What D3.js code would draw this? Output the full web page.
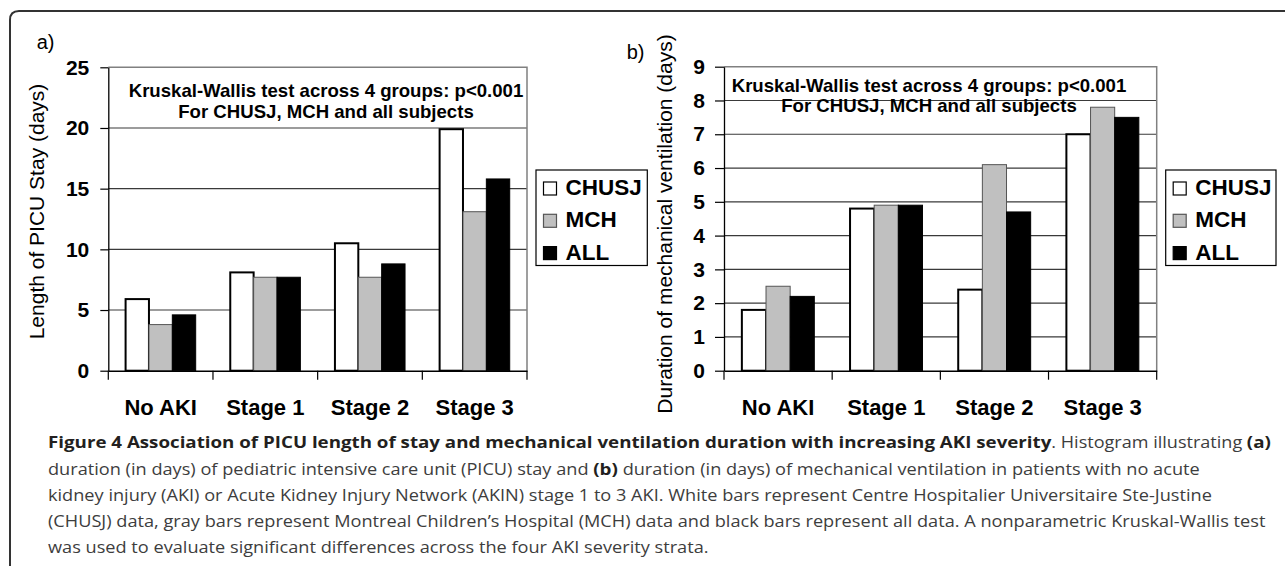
<!DOCTYPE html>
<html><head><meta charset="utf-8">
<script src="https://cdn.jsdelivr.net/npm/d3@7"></script>
<style>body{margin:0;background:#fff}svg{display:block}</style>
</head><body>
<svg id="c" width="1285" height="566"></svg>
<script>
// ---------- data ----------
const categories = ["No AKI", "Stage 1", "Stage 2", "Stage 3"];
const seriesNames = ["CHUSJ", "MCH", "ALL"];
const picuCHUSJ = [5.9, 8.1, 10.5, 19.9];
const picuMCH   = [3.8, 7.7, 7.7, 13.1];
const picuALL   = [4.6, 7.7, 8.8, 15.8];
const ventCHUSJ = [1.8, 4.8, 2.4, 7.0];
const ventMCH   = [2.5, 4.9, 6.1, 7.8];
const ventALL   = [2.2, 4.9, 4.7, 7.5];
const picuTicks = [0, 5, 10, 15, 20, 25];
const ventTicks = [0, 1, 2, 3, 4, 5, 6, 7, 8, 9];
const annotationLines = ["Kruskal-Wallis test across 4 groups: p<0.001", "For CHUSJ, MCH and all subjects"];
const captionLines = [
  [["b", "Figure 4 Association of PICU length of stay and mechanical ventilation duration with increasing AKI severity"], ["r", ". Histogram illustrating "], ["b", "(a)"]],
  [["r", "duration (in days) of pediatric intensive care unit (PICU) stay and "], ["b", "(b)"], ["r", " duration (in days) of mechanical ventilation in patients with no acute"]],
  [["r", "kidney injury (AKI) or Acute Kidney Injury Network (AKIN) stage 1 to 3 AKI. White bars represent Centre Hospitalier Universitaire Ste-Justine"]],
  [["r", "(CHUSJ) data, gray bars represent Montreal Children\u2019s Hospital (MCH) data and black bars represent all data. A nonparametric Kruskal-Wallis test"]],
  [["r", "was used to evaluate significant differences across the four AKI severity strata."]]
];

// ---------- drawing ----------
const svg = d3.select("#c");
const FONT = "'Liberation Sans', Arial, Helvetica, sans-serif";
const fills = {CHUSJ: "#ffffff", MCH: "#c0c0c0", ALL: "#000000"};
const strokes = {CHUSJ: "#000", MCH: "#555", ALL: "#000"};
const strokeW = {CHUSJ: 2, MCH: 1, ALL: 1};

// frame
svg.append("path")
  .attr("d", "M10,566 V20 Q10,11 19,11 H1285")
  .attr("fill", "none").attr("stroke", "#333").attr("stroke-width", 2);

function panel(o) {
  const g = svg.append("g");
  const x0 = d3.scaleBand().domain(categories).range([o.left, o.right]).padding(0);
  const x1 = d3.scaleBand().domain(seriesNames).range([0, x0.bandwidth()]).paddingInner(0).paddingOuter(0.74);
  const y = d3.scaleLinear().domain([0, o.max]).range([o.bottom, o.top]);

  g.append("g").selectAll("line").data(o.ticks.filter(t => t > 0 && t < o.max)).join("line")
    .attr("x1", o.left).attr("x2", o.right)
    .attr("y1", d => y(d)).attr("y2", d => y(d))
    .attr("stroke", "#3a3a3a").attr("stroke-width", 1.2);
  g.append("path").attr("d", `M${o.left},${y(o.max)}H${o.right}V${y(0)}`)
    .attr("fill", "none").attr("stroke", "#808080").attr("stroke-width", 1.5);

  const rows = categories.map((c, i) => ({cat: c, vals: seriesNames.map((s, j) => ({s, v: o.series[j][i]}))}));
  g.append("g").selectAll("g").data(rows).join("g")
    .attr("transform", d => `translate(${x0(d.cat)},0)`)
    .selectAll("rect").data(d => d.vals).join("rect")
    .attr("x", d => x1(d.s)).attr("width", x1.bandwidth())
    .attr("y", d => y(d.v)).attr("height", d => y(0) - y(d.v))
    .attr("fill", d => fills[d.s]).attr("stroke", d => strokes[d.s]).attr("stroke-width", d => strokeW[d.s]);

  const ya = d3.axisLeft(y).tickValues(o.ticks).tickSize(o.tickLen).tickSizeOuter(0).tickPadding(o.tickPad).tickFormat(d3.format("d"));
  const yg = g.append("g").attr("transform", `translate(${o.left},0)`).call(ya);
  yg.select(".domain").attr("stroke", "#000").attr("stroke-width", 1.3);
  yg.selectAll(".tick line").attr("stroke", "#000").attr("stroke-width", 1.2);
  yg.selectAll("text").attr("font-family", FONT).attr("font-size", 21).attr("font-weight", "bold").attr("fill", "#000");

  const xa = d3.axisBottom(x0).tickSize(0).tickSizeOuter(0);
  const xg = g.append("g").attr("transform", `translate(0,${y(0)})`).call(xa);
  xg.select(".domain").attr("stroke", "#000").attr("stroke-width", 1.5);
  xg.selectAll("text").attr("y", o.catBase - y(0)).attr("dy", 0)
    .attr("font-family", FONT).attr("font-size", 22).attr("font-weight", "bold").attr("fill", "#000");
  const bounds = categories.map(c => x0(c)).concat([o.right]);
  g.append("g").selectAll("line").data(bounds).join("line")
    .attr("x1", d => d).attr("x2", d => d)
    .attr("y1", y(0)).attr("y2", y(0) + 9)
    .attr("stroke", "#000").attr("stroke-width", 1.2);

  g.append("g").selectAll("text").data(annotationLines).join("text")
    .attr("x", o.annX).attr("y", (d, i) => o.annY[i])
    .attr("text-anchor", "middle").attr("font-family", FONT).attr("font-size", 18.6).attr("font-weight", "bold")
    .text(d => d);

  g.append("text").attr("x", o.labX).attr("y", o.labY)
    .attr("font-family", FONT).attr("font-size", 20).text(o.label);

  g.append("text").attr("transform", `translate(${o.ytX},${o.ytY}) rotate(-90)`)
    .attr("text-anchor", "middle").attr("font-family", FONT).attr("font-size", 21)
    .text(o.ytitle);

  const lg = g.append("g").attr("transform", `translate(${o.legX},170)`);
  lg.append("rect").attr("x", 0).attr("y", 0).attr("width", o.legW).attr("height", 95.5)
    .attr("fill", "#fff").attr("stroke", "#000").attr("stroke-width", 1.2);
  const items = lg.selectAll("g").data(seriesNames).join("g")
    .attr("transform", (d, i) => `translate(0,${25 + i * 32.3})`);
  items.append("rect").attr("x", 7.5).attr("y", -13).attr("width", 13).attr("height", 13)
    .attr("fill", d => fills[d]).attr("stroke", d => d === "MCH" ? "#555" : "#000").attr("stroke-width", 1.2);
  items.append("text").attr("x", 29.5).attr("y", 0)
    .attr("font-family", FONT).attr("font-size", 22.5).attr("font-weight", "bold").text(d => d);
}

panel({
  left: 108.3, right: 527, top: 67.3, bottom: 370.7, max: 25, ticks: picuTicks,
  series: [picuCHUSJ, picuMCH, picuALL],
  tickLen: 8, tickPad: 11, catBase: 415,
  annX: 326, annY: [96.6, 117.5],
  labX: 36.7, labY: 49, label: "a)",
  ytX: 43.5, ytY: 211.5, ytitle: "Length of PICU Stay (days)",
  legX: 536, legW: 111.3
});
panel({
  left: 724, right: 1156.7, top: 66.7, bottom: 370.7, max: 9, ticks: ventTicks,
  series: [ventCHUSJ, ventMCH, ventALL],
  tickLen: 9, tickPad: 10, catBase: 415,
  annX: 929, annY: [91.7, 112],
  labX: 626.7, labY: 59, label: "b)",
  ytX: 672, ytY: 224, ytitle: "Duration of mechanical ventilation (days)",
  legX: 1165.7, legW: 110.3
});

// caption: one uniform horizontal scale, fitted so the first line ends at the right edge
const capBase = [448, 475, 501, 527, 553];
const capNodes = captionLines.map((parts, i) => {
  const t = svg.append("text").attr("x", 0).attr("y", 0)
    .attr("font-family", "'Open Sans', 'Noto Sans', sans-serif");
  parts.forEach(([w, s]) => {
    t.append("tspan").attr("font-weight", w === "b" ? "bold" : "normal")
      .attr("font-size", w === "b" ? 16.5 : 15.9)
      .attr("fill", w === "b" ? "#231f20" : "#3d3d3d").text(s);
  });
  return t;
});
const sx = (1279 - 48) / capNodes[0].node().getComputedTextLength();
capNodes.forEach((t, i) => {
  const len = t.node().getComputedTextLength() * sx;
  const s = len > 1272 - 48 ? sx * (1272 - 48) / len : sx;
  t.attr("transform", `translate(48,${capBase[i]}) scale(${s},1)`);
});
</script>
</body></html>
